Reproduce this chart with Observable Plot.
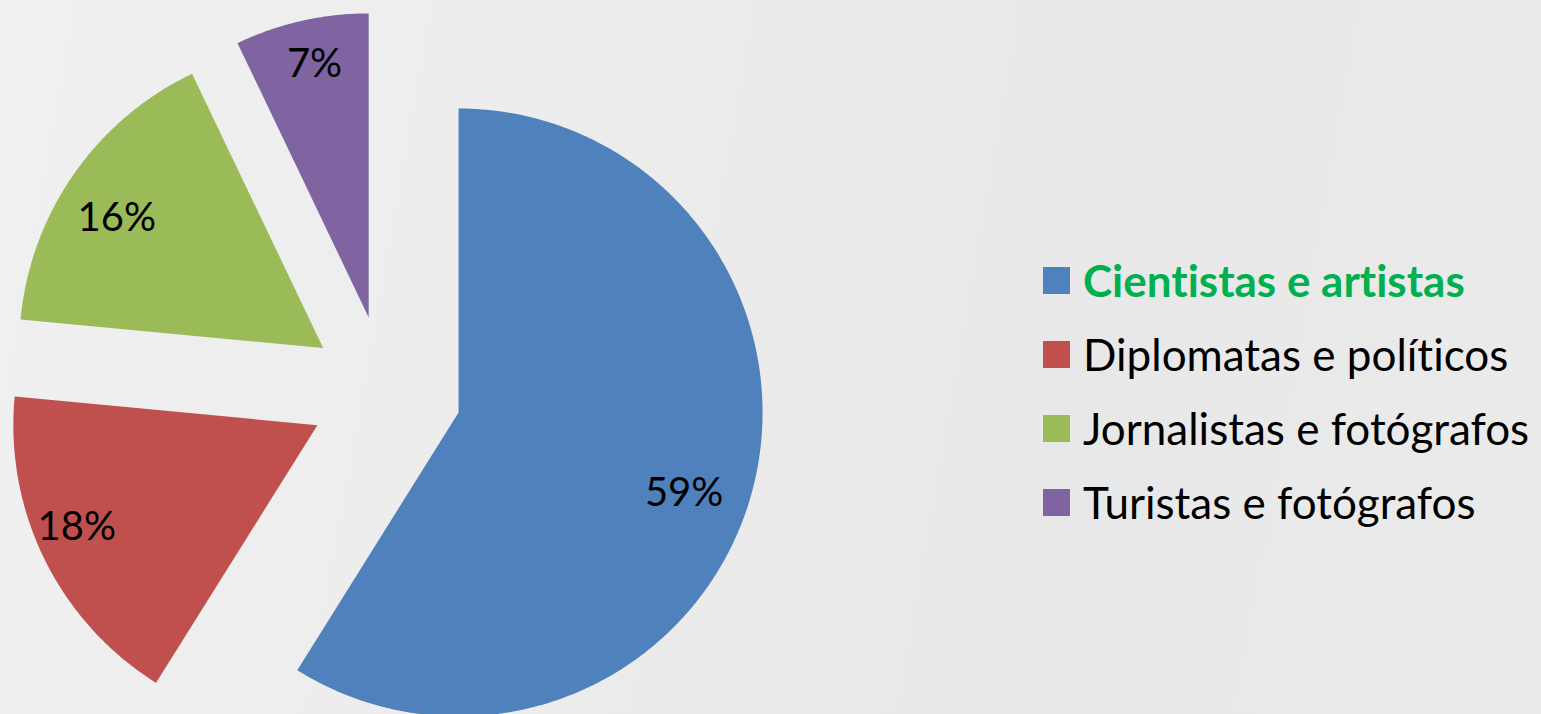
<!DOCTYPE html>
<html><head><meta charset="utf-8">
<script src="https://cdn.jsdelivr.net/npm/d3@7"></script>
<script src="https://cdn.jsdelivr.net/npm/@observablehq/plot@0.6"></script>
<style>
html,body{margin:0;padding:0;overflow:hidden;}
body{width:1541px;height:714px;position:relative;
  background:linear-gradient(100deg,#f0f0f0 0%,#ececec 40%,#e8e8e8 70%,#ebebeb 100%);
  font-family:Lato,"Open Sans",sans-serif;font-variant-ligatures:none;}
svg text{font-variant-ligatures:none;}
#chart{position:absolute;left:0;top:0;}
#legend{position:absolute;left:1043px;top:243px;}
.row{display:flex;align-items:center;height:74px;}
.sw{width:27px;height:27px;margin-right:13px;flex:none;}
.lab{font-size:44px;color:#000;white-space:nowrap;font-variant-ligatures:none;}
</style></head><body>
<div id="chart"></div><div id="legend"></div>
<script>
const categories = ["Cientistas e artistas","Diplomatas e políticos","Jornalistas e fotógrafos","Turistas e fotógrafos"];
const values = [58.9, 17.6, 16.4, 7.1];
const colors = ["#4f81bd","#c0504d","#9bbb59","#8064a2"];
const highlight = ["#00b050", null, null, null];
const explode = 0.25;
const labelRadius = 0.82;
// small pixel nudges for the data labels (layout only)
const labelDx = [-14, -17, -2, 1];
const labelDy = [12, -8, 13, -10];

const total = d3.sum(values);
const points = [];
const labels = [];
let cum = 0;
categories.forEach((cat, i) => {
  const a0 = cum / total * 2 * Math.PI;
  cum += values[i];
  const a1 = cum / total * 2 * Math.PI;
  const mid = (a0 + a1) / 2;
  const ox = explode * Math.sin(mid), oy = explode * Math.cos(mid);
  points.push({cat, x: ox, y: oy});
  const n = Math.ceil((a1 - a0) / (Math.PI / 360));
  for (let k = 0; k <= n; k++) {
    const a = a0 + (a1 - a0) * k / n;
    points.push({cat, x: ox + Math.sin(a), y: oy + Math.cos(a)});
  }
  labels.push({cat, i, text: Math.round(values[i] / total * 100) + "%",
    x: ox + labelRadius * Math.sin(mid), y: oy + labelRadius * Math.cos(mid)});
});

const chart = Plot.plot({
  width: 1541, height: 714, margin: 0,
  style: {background: "transparent", fontFamily: "Lato, 'Open Sans', sans-serif"},
  x: {domain: [-1, 1], range: [81, 689], axis: null},
  y: {domain: [-1, 1], range: [695, 87], axis: null},
  color: {domain: categories, range: colors},
  marks: [
    Plot.line(points, {x: "x", y: "y", z: "cat", fill: "cat", stroke: "none", curve: "linear"}),
    ...labels.map(l => Plot.text([l], {x: "x", y: "y", text: "text", fontSize: 40, fill: "#000",
      dx: labelDx[l.i], dy: labelDy[l.i]}))
  ]
});
document.getElementById("chart").appendChild(chart);

const legend = document.getElementById("legend");
categories.forEach((cat, i) => {
  const row = document.createElement("div");
  row.className = "row";
  const sw = document.createElement("div");
  sw.className = "sw";
  sw.style.background = colors[i];
  const lab = document.createElement("div");
  lab.className = "lab";
  lab.textContent = cat;
  if (highlight[i]) { lab.style.color = highlight[i]; lab.style.fontWeight = "bold"; }
  row.appendChild(sw); row.appendChild(lab);
  legend.appendChild(row);
});
</script>
</body></html>
